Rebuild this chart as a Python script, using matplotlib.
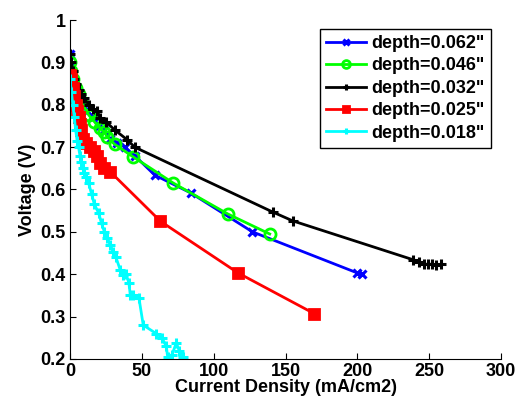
import matplotlib
matplotlib.use('Agg')
import matplotlib.pyplot as plt

plt.rcParams['font.family'] = ['Liberation Sans', 'DejaVu Sans']
plt.rcParams['font.weight'] = 'bold'

# depth = 0.062"
blue_x = [0, 1, 2, 4, 6, 9, 12, 16, 20, 24, 28, 33, 38, 45, 59, 84, 127, 200, 203]
blue_y = [0.92, 0.89, 0.86, 0.83, 0.815, 0.80, 0.785, 0.77, 0.75, 0.74, 0.72, 0.71, 0.70, 0.68, 0.634, 0.592, 0.50, 0.403, 0.40]

# depth = 0.046"
green_x = [0, 1, 2, 4, 6, 8, 10, 13, 17, 21, 24, 26, 31, 44, 72, 110, 139]
green_y = [0.90, 0.88, 0.86, 0.84, 0.825, 0.81, 0.795, 0.776, 0.76, 0.745, 0.735, 0.724, 0.707, 0.677, 0.615, 0.542, 0.495]

# depth = 0.032"
black_x = [0, 1, 2, 3, 4, 6, 8, 10, 13, 16, 19, 21, 25, 31, 40, 45, 141, 155, 239, 243, 246, 249, 252, 255, 258]
black_y = [0.92, 0.90, 0.88, 0.86, 0.85, 0.835, 0.825, 0.815, 0.80, 0.79, 0.785, 0.769, 0.76, 0.741, 0.717, 0.70, 0.547, 0.526, 0.434, 0.43, 0.425, 0.423, 0.424, 0.422, 0.423]

# depth = 0.025"
red_x = [0, 1, 2, 3, 4, 5, 6, 7, 8, 9, 11, 14, 17, 19, 21, 24, 28, 63, 117, 170]
red_y = [0.87, 0.86, 0.84, 0.82, 0.80, 0.785, 0.77, 0.755, 0.74, 0.72, 0.71, 0.70, 0.69, 0.68, 0.662, 0.65, 0.642, 0.525, 0.403, 0.307]

# depth = 0.018"
cyan_x = [0, 1, 2, 3, 4, 5, 6, 7, 8, 9, 10, 11, 13, 15, 17, 20, 22, 24, 26, 28, 30, 32, 35, 37, 39, 41, 42, 44, 48, 51, 60, 64, 67, 68, 71, 74, 76, 79, 81]
cyan_y = [0.86, 0.83, 0.80, 0.77, 0.74, 0.715, 0.70, 0.68, 0.665, 0.65, 0.64, 0.63, 0.615, 0.59, 0.565, 0.544, 0.52, 0.50, 0.485, 0.47, 0.453, 0.44, 0.41, 0.398, 0.40, 0.38, 0.351, 0.35, 0.344, 0.28, 0.26, 0.25, 0.23, 0.205, 0.21, 0.238, 0.22, 0.205, 0.19]

labels = ['depth=0.062"', 'depth=0.046"', 'depth=0.032"', 'depth=0.025"', 'depth=0.018"']

fig = plt.figure(figsize=(5.22, 4.05), dpi=100)
ax = fig.add_axes([0.134, 0.1136, 0.826, 0.837])

ax.plot(blue_x, blue_y, color='#0000ff', lw=2, marker='x', ms=6, mew=2.2, label=labels[0])
ax.plot(green_x, green_y, color='#00ff00', lw=2, marker='o', ms=8, mfc='none', mew=2, label=labels[1])
ax.plot(black_x, black_y, color='black', lw=2, marker='+', ms=7, mew=2.2, label=labels[2])
ax.plot(red_x, red_y, color='#ff0000', lw=2, marker='s', ms=7, mew=2, label=labels[3])
ax.plot(cyan_x, cyan_y, color='#00ffff', lw=2, marker='+', ms=7, mew=2.2, label=labels[4])

ax.set_xlim(0, 300)
ax.set_ylim(0.2, 1.0)
ax.set_xticks([0, 50, 100, 150, 200, 250, 300])
ax.set_yticks([0.2, 0.3, 0.4, 0.5, 0.6, 0.7, 0.8, 0.9, 1.0])
ax.set_yticklabels(['0.2', '0.3', '0.4', '0.5', '0.6', '0.7', '0.8', '0.9', '1'])
ax.spines['top'].set_visible(False)
ax.spines['right'].set_visible(False)
ax.tick_params(direction='in', labelsize=13, length=4, pad=3)
for lab in ax.get_xticklabels() + ax.get_yticklabels():
    lab.set_fontweight('bold')

ax.set_xlabel('Current Density (mA/cm2)', fontsize=13, fontweight='bold', labelpad=-1)
ax.set_ylabel('Voltage (V)', fontsize=13, fontweight='bold', labelpad=3)

leg = ax.legend(loc='upper right', bbox_to_anchor=(0.985, 0.985), fontsize=13, fancybox=False,
                edgecolor='black', framealpha=1, handlelength=2.2, borderpad=0.35,
                labelspacing=0.3, handletextpad=0.3, borderaxespad=0.2, markerscale=0.7)
leg.get_frame().set_linewidth(1)

fig.savefig('out.png', dpi=100)
